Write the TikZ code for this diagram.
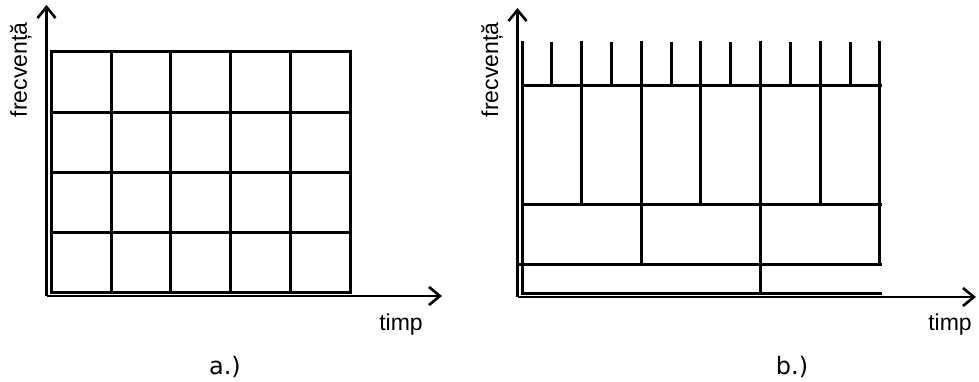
\documentclass[tikz,border=0pt]{standalone}
\usepackage{fontspec}
\setmainfont{Liberation Sans}
\newfontfamily\captionfont{DejaVu Sans}
\usetikzlibrary{arrows.meta}
\begin{document}
\begin{tikzpicture}[x=1pt,y=-1pt,
  axis/.style={line width=2.6pt, -{Straight Barb[length=11pt,width=18pt,line width=2.6pt]}},
  cell/.style={line width=3pt, line cap=rect},
  axlabel/.style={font=\fontsize{23}{27}\selectfont, inner sep=0pt},
  caption/.style={font=\captionfont\fontsize{24}{28}\selectfont, inner sep=0pt}]
\useasboundingbox (0,0) rectangle (979,382);

% ---------- a.) uniform time-frequency tiling ----------
\coordinate (aO) at (46.5,296);
\coordinate (aY) at (46.5,5);
\coordinate (aX) at (442,296);
\draw[axis] (aO) -- (aY);
\draw[axis] (aO) -- (aX);
\foreach \i in {0,...,5}
  \draw[cell] ({51.5+59.7*\i},52) -- ({51.5+59.7*\i},292.5);
\foreach \j in {0,...,4}
  \draw[cell] (51.5,{52+60.1*\j}) -- (350,{52+60.1*\j});
\node[axlabel, rotate=90, anchor=base] (fa) at (27,70) {frecvență};
\node[axlabel, anchor=base] (ta) at (401,330) {timp};
\node[caption, anchor=base] (ca) at (225,374) {a.)};

% ---------- b.) dyadic (wavelet) tiling ----------
\coordinate (bO) at (517.5,297);
\coordinate (bY) at (517.5,8);
\coordinate (bX) at (976,297);
\draw[axis] (bO) -- (bY);
\draw[axis] (bO) -- (bX);
% finest band: short ticks above the top line
\foreach \k in {0,2,...,12}
  \draw[cell] ({522+29.83*\k},42.5) -- ({522+29.83*\k},85.5);
\foreach \k in {1,3,...,11}
  \draw[cell] ({522+29.83*\k},44) -- ({522+29.83*\k},85.5);
\draw[cell] (522,85.5) -- (880,85.5);
% second band: six cells
\foreach \k in {0,2,...,12}
  \draw[cell] ({522+29.83*\k},85.5) -- ({522+29.83*\k},204.5);
\draw[cell] (522,204.5) -- (880,204.5);
% third band: three cells
\foreach \k in {0,4,8,12}
  \draw[cell] ({522+29.83*\k},204.5) -- ({522+29.83*\k},264.5);
\draw[cell] (518,264.5) -- (880,264.5);
% lowest band
\foreach \k in {0,8}
  \draw[cell] ({522+29.83*\k},264.5) -- ({522+29.83*\k},293.5);
\draw[cell] (522,293.5) -- (880,293.5);
\node[axlabel, rotate=90, anchor=base] (fb) at (498,70) {frecvență};
\node[axlabel, anchor=base] (tb) at (950,330) {timp};
\node[caption, anchor=base] (cb) at (792,374) {b.)};
\end{tikzpicture}
\end{document}
